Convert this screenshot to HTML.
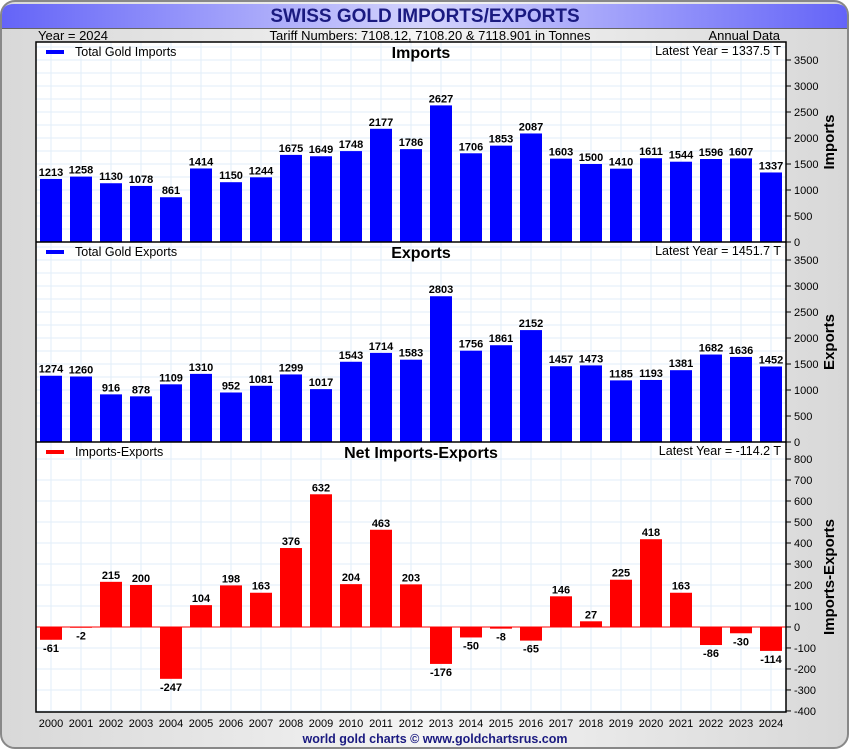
<!DOCTYPE html>
<html><head><meta charset="utf-8">
<style>
body{margin:0;background:#fff;}
svg{display:block;font-family:"Liberation Sans",sans-serif;}
</style></head>
<body>
<svg id="c" width="850" height="750" viewBox="0 0 850 750" xmlns="http://www.w3.org/2000/svg">
<defs>
<linearGradient id="tg" x1="0" x2="1" y1="0" y2="0">
<stop offset="0" stop-color="#6464f8"/><stop offset="0.5" stop-color="#d4d4fc"/><stop offset="1" stop-color="#6464f8"/>
</linearGradient>
<linearGradient id="bg" x1="0" x2="1" y1="0" y2="0">
<stop offset="0" stop-color="#d8d8d8"/><stop offset="0.5" stop-color="#f4f4f4"/><stop offset="1" stop-color="#d8d8d8"/>
</linearGradient>
</defs>
<rect x="1" y="1" width="847" height="747" rx="14" fill="url(#bg)" stroke="#888" stroke-width="2"/>
<path d="M2,28 V15 Q2,4 14,4 H836 Q847,4 847,15 V28 Z" fill="url(#tg)"/>
<line x1="2" y1="28.5" x2="847" y2="28.5" stroke="#666" stroke-width="1"/>
<text x="425" y="22" text-anchor="middle" font-size="19" font-weight="bold" fill="#1a1a80">SWISS GOLD IMPORTS/EXPORTS</text>
<text x="38" y="40" font-size="13">Year = 2024</text>
<text x="430" y="40" font-size="13" text-anchor="middle">Tariff Numbers: 7108.12, 7108.20 &amp; 7118.901 in Tonnes</text>
<text x="780" y="40" font-size="13" text-anchor="end">Annual Data</text>
<rect x="36" y="42" width="750" height="670" fill="#fff"/>
<g id="grid"></g><g id="marks"></g><g id="labels"></g>
<rect x="36" y="42" width="750" height="670" fill="none" stroke="#000" stroke-width="1.5"/>
<line x1="36" y1="242" x2="786" y2="242" stroke="#000" stroke-width="1.5"/>
<line x1="36" y1="442" x2="786" y2="442" stroke="#000" stroke-width="1.5"/>
<text x="435" y="743" text-anchor="middle" font-size="12.5" font-weight="bold" fill="#1a1a80">world gold charts © www.goldchartsrus.com</text>
</svg>
<script>
const years=["2000","2001","2002","2003","2004","2005","2006","2007","2008","2009","2010","2011","2012","2013","2014","2015","2016","2017","2018","2019","2020","2021","2022","2023","2024"];
const imports=[1213,1258,1130,1078,861,1414,1150,1244,1675,1649,1748,2177,1786,2627,1706,1853,2087,1603,1500,1410,1611,1544,1596,1607,1337];
const exportsV=[1274,1260,916,878,1109,1310,952,1081,1299,1017,1543,1714,1583,2803,1756,1861,2152,1457,1473,1185,1193,1381,1682,1636,1452];
const net=[-61,-2,215,200,-247,104,198,163,376,632,204,463,203,-176,-50,-8,-65,146,27,225,418,163,-86,-30,-114];
const tickTop=[0,500,1000,1500,2000,2500,3000,3500];
const tickNet=[-400,-300,-200,-100,0,100,200,300,400,500,600,700,800];
const NS="http://www.w3.org/2000/svg";
const L=36,R=786,slot=(R-L)/years.length,bw=22;
function xc(i){return L+slot*(i+0.5);}
function mk(parent,tag,attrs,txt){const e=document.createElementNS(NS,tag);for(const k in attrs)e.setAttribute(k,attrs[k]);if(txt!==undefined)e.textContent=txt;document.getElementById(parent).appendChild(e);return e;}
const panels=[
 {name:"imports",vals:imports,top:42,bot:242,min:0,max:3846,ticks:tickTop,minor:250,color:"#0000ff",legend:"Total Gold Imports",title:"Imports",latest:"Latest Year = 1337.5 T",axis:"Imports"},
 {name:"exports",vals:exportsV,top:242,bot:442,min:0,max:3846,ticks:tickTop,minor:250,color:"#0000ff",legend:"Total Gold Exports",title:"Exports",latest:"Latest Year = 1451.7 T",axis:"Exports"},
 {name:"net",vals:net,top:442,bot:712,min:-405,max:881,ticks:tickNet,minor:100,color:"#ff0000",legend:"Imports-Exports",title:"Net Imports-Exports",latest:"Latest Year = -114.2 T",axis:"Imports-Exports"}
];
panels.forEach(p=>{
 const y=v=>p.bot-(v-p.min)/(p.max-p.min)*(p.bot-p.top);
 for(let v=Math.ceil(p.min/p.minor)*p.minor;v<=p.max;v+=p.minor){
  const g=mk("grid","line",{x1:L,x2:R,y1:y(v),y2:y(v),stroke:"#e2eef8","stroke-width":1});
  
  
 }
 years.forEach((yr,i)=>{
  const g=mk("grid","line",{x1:xc(i),x2:xc(i),y1:p.top,y2:p.bot,stroke:"#e2eef8","stroke-width":1});
  
  
 });
 const z=y(Math.max(0,p.min));
 p.vals.forEach((v,i)=>{
  const y1=y(v),top=Math.min(y1,z),h=Math.max(Math.abs(z-y1),0.8);
  const b=mk("marks","rect",{x:xc(i)-bw/2,y:top,width:bw,height:h,fill:p.color});
  
  
  const ty=v>=0?y1-3:y1+12;
  const t=mk("labels","text",{x:xc(i),y:ty,"text-anchor":"middle","font-size":"11","font-weight":"bold"},String(v));
  
  
 });
 if(p.min<0){const zl=mk("marks","line",{x1:L,x2:R,y1:z,y2:z,stroke:"#ff0000","stroke-width":1});
  
  }
 p.ticks.forEach(v=>{
  const tk=mk("labels","line",{x1:R,x2:R+5,y1:y(v),y2:y(v),stroke:"#000"});
  
  
  const tl=mk("labels","text",{x:R+8,y:y(v)+4,"font-size":"11"},String(v));
  
  
 });
 const lg=mk("labels","rect",{x:46,y:p.top+8,width:18,height:4,fill:p.color});
 
 
 const lt=mk("labels","text",{x:75,y:p.top+14,"font-size":"12.5"},p.legend);
 
 
 const pt=mk("labels","text",{x:(L+R)/2+10,y:p.top+16,"text-anchor":"middle","font-size":"16","font-weight":"bold"},p.title);
 
 
 const la=mk("labels","text",{x:R-5,y:p.top+13,"text-anchor":"end","font-size":"12.5"},p.latest);
 
 
 const ay=(p.top+p.bot)/2;
 const at=mk("labels","text",{x:834,y:ay,"text-anchor":"middle","font-size":"15","font-weight":"bold",transform:"rotate(-90 834 "+ay+")"},p.axis);
 
 
});
years.forEach((yr,i)=>{
 const t=mk("labels","text",{x:xc(i),y:727,"text-anchor":"middle","font-size":"11"},yr);
 
 
});
</script>
</body></html>
